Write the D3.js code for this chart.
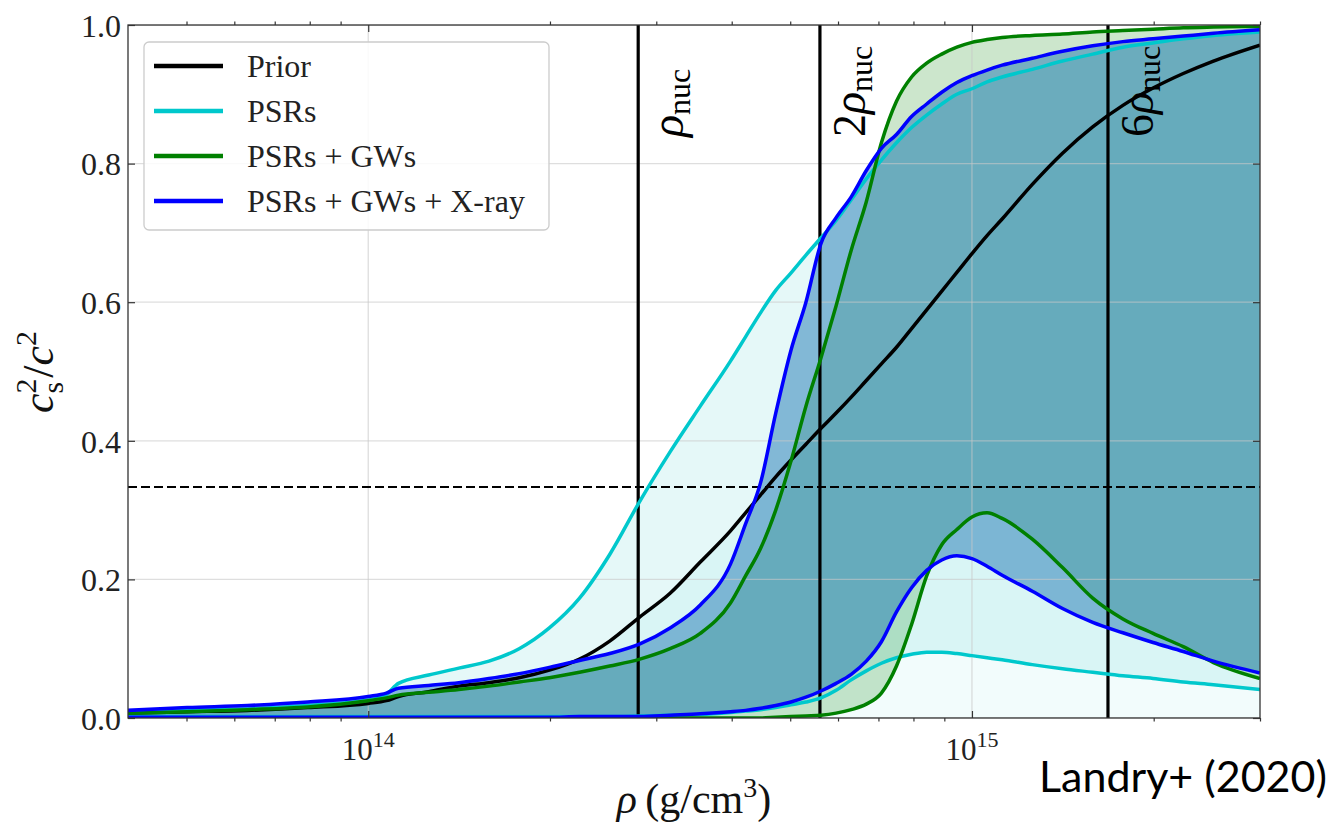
<!DOCTYPE html>
<html><head><meta charset="utf-8">
<script src="https://cdn.jsdelivr.net/npm/d3@7"></script>
<style>body{margin:0;background:#fff}svg{display:block}
.serif{font-family:"Liberation Serif","DejaVu Serif","Noto Serif",serif;}
</style>
</head><body>
<svg id="c" width="1332" height="828"></svg>
<script>
// ---------- data ----------
const logRho = [13.602,13.7,13.8,13.9,14.0,14.03,14.05,14.1,14.15,14.2,14.25,14.3,14.35,14.4,14.45,14.5,14.55,14.6,
  14.625,14.65,14.675,14.7,14.725,14.75,14.775,14.8,14.825,14.85,14.875,14.9,14.925,14.95,14.975,15.0,15.025,15.05,
  15.1,15.15,15.2,15.25,15.3,15.35,15.4,15.477];
const priorUpper = [0.007,0.009,0.011,0.015,0.021,0.025,0.031,0.038,0.046,0.051,0.058,0.069,0.085,0.111,0.146,0.18,0.225,0.27,
  0.296,0.322,0.348,0.372,0.395,0.418,0.44,0.463,0.487,0.511,0.535,0.562,0.589,0.616,0.643,0.67,0.696,0.72,
  0.77,0.815,0.853,0.884,0.909,0.93,0.948,0.971];
const psrUpper = [0.008,0.011,0.013,0.018,0.026,0.034,0.05,0.062,0.072,0.082,0.1,0.13,0.173,0.236,0.313,0.384,0.45,0.515,
  0.55,0.585,0.617,0.642,0.668,0.693,0.718,0.748,0.778,0.805,0.83,0.852,0.87,0.886,0.9,0.908,0.918,0.925,
  0.936,0.948,0.958,0.968,0.974,0.98,0.985,0.99];
const psrLower = [0.002,0.002,0.002,0.002,0.002,0.002,0.002,0.002,0.002,0.002,0.002,0.002,0.002,0.002,0.003,0.004,0.005,0.008,
  0.01,0.012,0.015,0.019,0.023,0.029,0.04,0.055,0.068,0.079,0.087,0.092,0.095,0.095,0.093,0.09,0.087,0.084,
  0.077,0.071,0.066,0.061,0.057,0.052,0.048,0.041];
const gwUpper = [0.007,0.009,0.012,0.016,0.025,0.029,0.033,0.037,0.041,0.046,0.052,0.058,0.066,0.075,0.085,0.1,0.122,0.166,
  0.205,0.245,0.3,0.37,0.45,0.52,0.595,0.675,0.745,0.83,0.89,0.925,0.945,0.958,0.968,0.975,0.979,0.982,
  0.985,0.987,0.99,0.992,0.994,0.996,0.997,0.998];
const gwLower = [0,0,0,0,0,0,0,0,0,0,0,0,0,0,0,0,0,0,
  0,0,0.001,0.002,0.003,0.004,0.007,0.012,0.02,0.036,0.075,0.135,0.205,0.25,0.272,0.29,0.296,0.288,
  0.258,0.217,0.173,0.143,0.122,0.103,0.08,0.057];
const xrayUpper = [0.011,0.015,0.018,0.023,0.031,0.036,0.043,0.047,0.051,0.057,0.064,0.073,0.083,0.093,0.107,0.13,0.163,0.222,
  0.28,0.34,0.44,0.53,0.6,0.685,0.722,0.752,0.79,0.822,0.842,0.868,0.886,0.903,0.917,0.927,0.935,0.942,
  0.952,0.962,0.97,0.976,0.98,0.984,0.988,0.993];
const xrayLower = [0.001,0.001,0.001,0.001,0.001,0.001,0.001,0.001,0.001,0.001,0.001,0.001,0.002,0.002,0.002,0.004,0.006,0.009,
  0.011,0.014,0.018,0.023,0.03,0.039,0.05,0.063,0.082,0.11,0.153,0.188,0.213,0.228,0.234,0.23,0.219,0.206,
  0.183,0.158,0.138,0.123,0.109,0.096,0.082,0.065];
const yTicks = [0, 0.2, 0.4, 0.6, 0.8, 1.0];
const xMajorTicks = [1e14, 1e15];
const xMajorLabels = [["10","14"],["10","15"]];
const xMinorTicks = [5e13,6e13,7e13,8e13,9e13,2e14,3e14,4e14,5e14,6e14,7e14,8e14,9e14,2e15,3e15];
const rhoNuc = 2.8e14;
const nucMultiples = [1, 2, 6];
const nucPrefix = ["", "2", "6"];
const conformal = 1/3;
const legendLabels = ["Prior", "PSRs", "PSRs + GWs", "PSRs + GWs + X-ray"];

// ---------- layout / style ----------
const M = {left:128, right:1260, top:25, bottom:718};
const col = {prior:"#000000", psr:"#00c8cc", gw:"#008000", xray:"#0000ff"};

const rho = logRho.map(l => Math.pow(10, l));
const x = d3.scaleLog().domain([4e13, 3e15]).range([M.left, M.right]);
const y = d3.scaleLinear().domain([0, 1]).range([M.bottom, M.top]);
const idx = d3.range(rho.length);

const svg = d3.select("#c");
svg.append("rect").attr("width",1332).attr("height",828).attr("fill","#fff");
svg.append("defs").append("clipPath").attr("id","clip").append("rect")
  .attr("x",M.left).attr("y",M.top).attr("width",M.right-M.left).attr("height",M.bottom-M.top);
const plot = svg.append("g").attr("clip-path","url(#clip)");

const area = (lo, hi) => d3.area().x(i => x(rho[i])).y0(i => y(lo ? lo[i] : 0)).y1(i => y(hi[i])).curve(d3.curveMonotoneX);
const line = arr => d3.line().x(i => x(rho[i])).y(i => y(arr[i])).curve(d3.curveMonotoneX);

// fills
plot.append("path").datum(idx).attr("d", area(null, priorUpper)).attr("fill","#00bfbf").attr("fill-opacity",0.05);
plot.append("path").datum(idx).attr("d", area(psrLower, psrUpper)).attr("fill","#00bfbf").attr("fill-opacity",0.1);
plot.append("path").datum(idx).attr("d", area(gwLower, gwUpper)).attr("fill","#008000").attr("fill-opacity",0.2);
plot.append("path").datum(idx).attr("d", area(xrayLower, xrayUpper)).attr("fill","#1f77b4").attr("fill-opacity",0.5);

// grid
const grid = plot.append("g").attr("stroke","#c8c8c8").attr("stroke-opacity",0.6).attr("stroke-width",1.3);
grid.selectAll(".gx").data(xMajorTicks).join("line")
  .attr("x1",d=>x(d)).attr("x2",d=>x(d)).attr("y1",M.top).attr("y2",M.bottom);
grid.selectAll(".gy").data(yTicks).join("line")
  .attr("x1",M.left).attr("x2",M.right).attr("y1",d=>y(d)).attr("y2",d=>y(d));

// reference lines
plot.append("line").attr("x1",M.left).attr("x2",M.right).attr("y1",y(conformal)).attr("y2",y(conformal))
  .attr("stroke","#000").attr("stroke-width",2.2).attr("stroke-dasharray","9,4");
plot.selectAll(".vnuc").data(nucMultiples).join("line")
  .attr("x1",d=>x(d*rhoNuc)).attr("x2",d=>x(d*rhoNuc)).attr("y1",M.top).attr("y2",M.bottom)
  .attr("stroke","#000").attr("stroke-width",3.2);

// data lines
const lw = 3.5;
const addLine = (arr, c) => plot.append("path").datum(idx).attr("d", line(arr)).attr("fill","none")
  .attr("stroke", c).attr("stroke-width", lw).attr("stroke-linejoin","round");
addLine(priorUpper, col.prior);
addLine(psrLower, col.psr); addLine(psrUpper, col.psr);
addLine(gwLower, col.gw); addLine(gwUpper, col.gw);
addLine(xrayLower, col.xray); addLine(xrayUpper, col.xray);

// rho_nuc labels
nucMultiples.forEach((m, k) => {
  const t = svg.append("text").attr("class","serif")
    .attr("transform", `translate(${x(m*rhoNuc)+45},137) rotate(-90)`)
    .style("font-size","46px").attr("fill","#000");
  if (nucPrefix[k]) t.append("tspan").text(nucPrefix[k]);
  t.append("tspan").style("font-style","italic").text("ρ");
  t.append("tspan").style("font-size","32px").attr("dy",7).text("nuc");
});

// spines
svg.append("rect").attr("x",M.left).attr("y",M.top).attr("width",M.right-M.left).attr("height",M.bottom-M.top)
  .attr("fill","none").attr("stroke","#333").attr("stroke-width",1.3);

// ticks via d3 axes
const styleAxis = g => { g.select(".domain").remove(); g.attr("font-family",null).attr("font-size",null);
  g.selectAll(".tick line").attr("stroke","#333").attr("stroke-width",1.2); };
svg.append("g").attr("transform",`translate(0,${M.bottom})`)
  .call(d3.axisBottom(x).tickValues(xMajorTicks).tickSizeInner(-7).tickSizeOuter(0).tickFormat(""))
  .call(styleAxis);
svg.append("g").attr("transform",`translate(0,${M.top})`)
  .call(d3.axisTop(x).tickValues(xMajorTicks).tickSizeInner(-7).tickSizeOuter(0).tickFormat(""))
  .call(styleAxis);
svg.append("g").attr("transform",`translate(0,${M.bottom})`)
  .call(d3.axisBottom(x).tickValues(xMinorTicks).tickSizeInner(3.5).tickSizeOuter(0).tickFormat(""))
  .call(styleAxis);
svg.append("g").attr("transform",`translate(0,${M.top})`)
  .call(d3.axisTop(x).tickValues(xMinorTicks).tickSizeInner(3.5).tickSizeOuter(0).tickFormat(""))
  .call(styleAxis);
svg.append("g").attr("transform",`translate(${M.right},0)`)
  .call(d3.axisRight(y).tickValues(yTicks).tickSizeInner(-7).tickSizeOuter(0).tickFormat(""))
  .call(styleAxis);
const yAx = svg.append("g").attr("transform",`translate(${M.left},0)`)
  .call(d3.axisLeft(y).tickValues(yTicks).tickSizeInner(-7).tickSizeOuter(0).tickPadding(7).tickFormat(d3.format(".1f")))
  .call(styleAxis);
yAx.selectAll(".tick text").attr("class","serif").style("font-size","32px").attr("fill","#222").attr("dy","0.35em");

// x tick labels 10^n
xMajorTicks.forEach((v, k) => {
  const t = svg.append("text").attr("class","serif").attr("x", x(v)).attr("y", 760).attr("text-anchor","middle")
    .style("font-size","31px").attr("fill","#222");
  t.append("tspan").text(xMajorLabels[k][0]);
  t.append("tspan").style("font-size","22px").attr("dy", -13).text(xMajorLabels[k][1]);
});

// axis labels
const yl = svg.append("text").attr("class","serif").attr("transform","translate(53,372) rotate(-90)").attr("text-anchor","middle")
  .style("font-size","44px").attr("fill","#111");
yl.append("tspan").style("font-style","italic").text("c");
yl.append("tspan").style("font-size","30px").attr("dy",-17).text("2");
yl.append("tspan").style("font-size","30px").attr("dx",-15).attr("dy",27).text("s");
yl.append("tspan").attr("dx",4).attr("dy",-10).text("/");
yl.append("tspan").style("font-style","italic").text("c");
yl.append("tspan").style("font-size","30px").attr("dy",-17).text("2");

const xl = svg.append("text").attr("class","serif").attr("x", 694).attr("y", 813).attr("text-anchor","middle")
  .style("font-size","42px").attr("fill","#111");
xl.append("tspan").style("font-style","italic").text("ρ");
xl.append("tspan").text("\u2009(g/cm");
xl.append("tspan").style("font-size","28px").attr("dy",-16).text("3");
xl.append("tspan").attr("dy",16).text(")");

// legend
const lg = svg.append("g");
lg.append("rect").attr("x",144).attr("y",42).attr("width",405).attr("height",188).attr("rx",5)
  .attr("fill","#fff").attr("fill-opacity",0.85).attr("stroke","#cccccc").attr("stroke-width",1.3);
const lgCols = [col.prior, col.psr, col.gw, col.xray];
legendLabels.forEach((lab, k) => {
  const yy = 66 + k*45;
  lg.append("line").attr("x1",154).attr("x2",223).attr("y1",yy).attr("y2",yy)
    .attr("stroke", lgCols[k]).attr("stroke-width", 4.5);
  lg.append("text").attr("class","serif").attr("x",247).attr("y",yy+11).style("font-size","32px")
    .attr("fill","#222").text(lab);
});

// credit
const cr = svg.append("text").attr("x",1039).attr("y",792).style("font-family","Lato, 'Open Sans', sans-serif")
  .style("font-size","40px").attr("fill","#000").text("Landry+ (2020)");
const len = cr.node().getComputedTextLength();
cr.style("font-size", (40*288/len) + "px");
</script>
</body></html>
